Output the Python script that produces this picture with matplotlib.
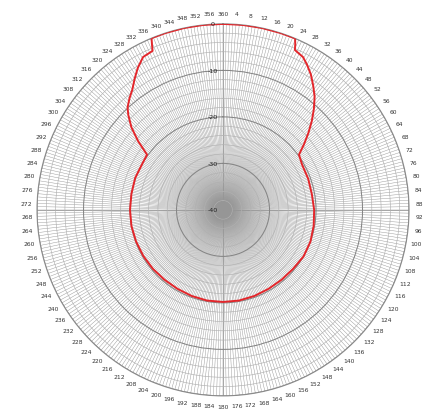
import numpy as np
import matplotlib
matplotlib.use('Agg')
import matplotlib.pyplot as plt
from matplotlib.transforms import offset_copy

# pattern: angle (deg, clockwise from top) -> level (dB)
angles = [0, 6, 12, 18, 22.8, 23.6, 24.2, 27.6, 30, 33, 36, 39, 42, 45, 48, 51, 54,
          60, 70, 80, 90, 100, 110, 120, 130, 140, 150, 160, 170, 180,
          190, 200, 210, 220, 230, 240, 250, 260, 270, 280, 290, 300,
          306, 309, 312, 315, 317, 320, 323, 326, 329, 332.4, 336.1, 336.8, 337.4,
          342, 348, 354, 360]
levels = [0, 0, 0, 0, 0, -1.2, -2.3, -2.9, -3.9, -5.3, -7.0, -8.7, -10.8, -13.0, -15.3, -17.6, -19.8,
          -20.4, -20.5, -20.6, -20.4, -20.2, -20.0, -20.0, -20.3, -20.4, -20.4, -20.3, -20.2, -20.2,
          -20.2, -20.3, -20.4, -20.4, -20.3, -20.2, -20.1, -20.0, -20.0, -20.0, -19.9, -20.0,
          -19.8, -16.5, -13.5, -11.2, -9.9, -8.7, -7.6, -6.0, -4.4, -2.9, -2.6, -1.2, 0,
          0, 0, 0, 0]

ring_major = [-40, -30, -20, -10, 0]
ring_labels = ['-40', '-30', '-20', '-10', '0']
ring_minor = list(range(-40, 1, 2))
angle_major = list(range(0, 360, 4))
angle_labels = ['360' if a == 0 else str(a) for a in angle_major]

fig = plt.figure(figsize=(4.27, 4.10), dpi=100)
ax = fig.add_axes([0.0867, 0.032, 0.8712, 0.9073], projection='polar')
ax.set_theta_zero_location('N')
ax.set_theta_direction(-1)
ax.set_ylim(-40, 0)

# spokes every degree, labels every 4 degrees
ax.set_xticks(np.deg2rad(angle_major))
ax.set_xticklabels(angle_labels, fontsize=4.3, color='#333333')
ax.set_xticks(np.deg2rad(np.arange(0, 360, 1)), minor=True)
ax.tick_params(axis='x', which='both', pad=0.5, length=0)

ax.set_yticks(ring_major)
ax.set_yticklabels([])
ax.set_yticks(ring_minor, minor=True)
ax.tick_params(axis='y', which='both', length=0)

ax.grid(False)
ax.xaxis.grid(True, which='minor', color='#969696', lw=0.32)
ax.xaxis.grid(True, which='major', color='#969696', lw=0.32)
ax.yaxis.grid(True, which='minor', color='#b0b0b0', lw=0.45)
ax.yaxis.grid(True, which='major', color='#858585', lw=0.75)

# darker main axes
for a in [0, 90, 180, 270]:
    ax.plot([np.deg2rad(a), np.deg2rad(a)], [-40, 0], color='#8a8a8a', lw=0.5, zorder=1)

ax.spines['polar'].set_color('#8a8a8a')
ax.spines['polar'].set_linewidth(0.8)

ax.plot(np.deg2rad(angles), levels, color='#e3262b', lw=1.4, zorder=5)

tr = offset_copy(ax.transData, fig=fig, x=-10, y=0, units='dots')
for r, s in zip(ring_major, ring_labels):
    ax.text(0, r, s, transform=tr, fontsize=4.6, color='#222222',
            ha='center', va='center', zorder=6)

fig.savefig('out.png', dpi=100)
